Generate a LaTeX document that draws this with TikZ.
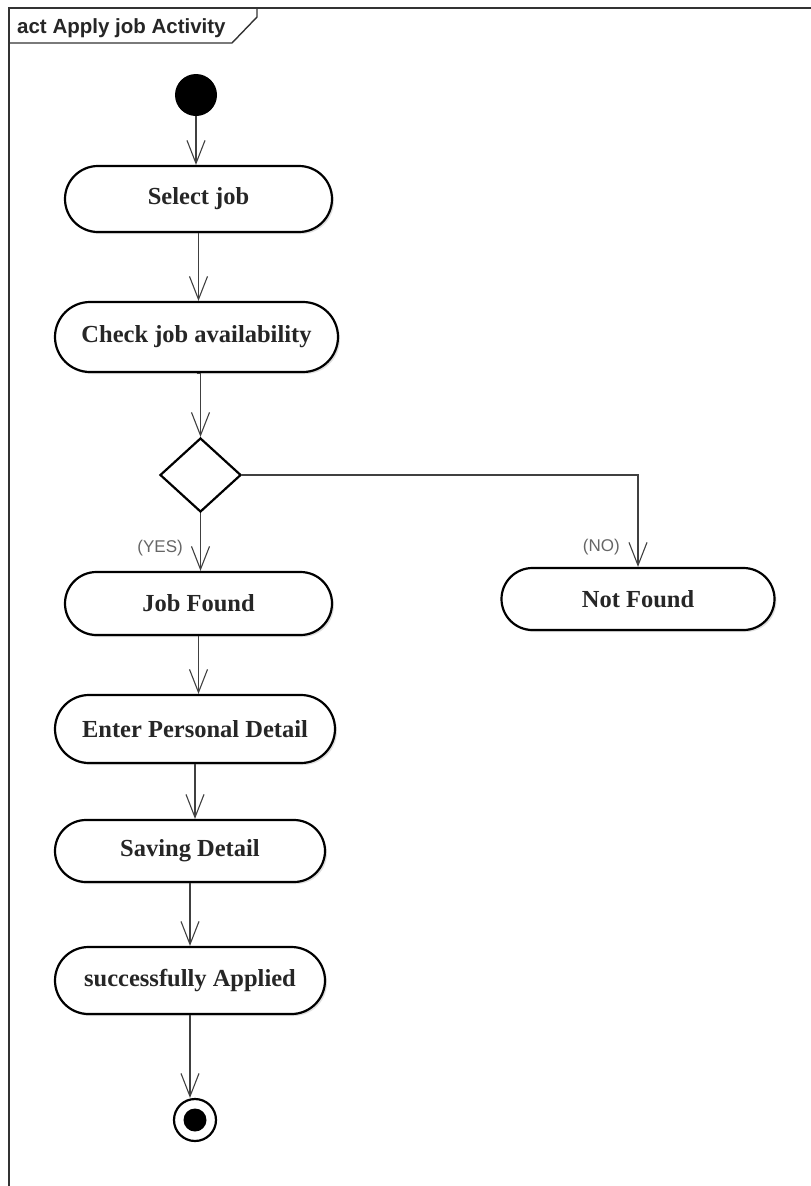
\documentclass[tikz,border=0pt]{standalone}
\usepackage{fontspec}
\setmainfont{Liberation Serif}
\newfontfamily\framefont{Liberation Sans}
\usetikzlibrary{shapes.misc,shapes.geometric,arrows.meta,shadows}

\tikzset{
  actbox/.style={rounded rectangle, draw=black, line width=2.2pt, fill=white,
    inner sep=0pt, font=\fontsize{24.5}{28}\selectfont\bfseries, text=black!85,
    drop shadow={shadow xshift=2pt, shadow yshift=-2pt, opacity=0.25, fill=black!50}},
  decbox/.style={diamond, draw=black, line width=2.2pt, fill=white, inner sep=0pt,
    minimum width=81pt, minimum height=74pt},
  flow/.style={draw=black!75, line width=1.1pt,
    -{Straight Barb[length=23pt, width=18pt, line width=1.1pt]}},
  guard/.style={font=\framefont\fontsize{17}{19}\selectfont, text=black!60, inner sep=1pt},
}

\begin{document}
\begin{tikzpicture}[x=1pt, y=-1pt]
  \useasboundingbox (0,0) rectangle (811,1186);

  % diagram frame and its name tab
  \draw[line width=1.4pt, black!80] (9,1186) -- (9,8) -- (811,8);
  \draw[line width=1.4pt, black!80] (9,43) -- (232,43) -- (257,17) -- (257,8);
  \node[anchor=west, font=\framefont\fontsize{20.5}{22}\selectfont\bfseries, text=black!85, inner sep=0pt]
    (title) at (17,28) {act Apply job Activity};

  % start and end
  \node[circle, fill=black, minimum size=42pt, inner sep=0pt] (start) at (196,95) {};
  \node[circle, draw=black, line width=2.2pt, fill=white, minimum size=42pt, inner sep=0pt] (stop) at (195,1120) {};
  \node[circle, fill=black, minimum size=23pt, inner sep=0pt] (stopdot) at (stop) {};

  % activities
  \node[actbox, minimum width=267pt, minimum height=66pt] (sel)   at (198.5,199)   {Select job};
  \node[actbox, minimum width=283pt, minimum height=70pt] (chk)   at (196.5,337)   {Check job availability};
  \node[decbox] (dec) at (200.5,475) {};
  \node[actbox, minimum width=267pt, minimum height=63pt] (found) at (198.5,603.5) {Job Found};
  \node[actbox, minimum width=273pt, minimum height=62pt] (notf)  at (638,599)     {Not Found};
  \node[actbox, minimum width=280pt, minimum height=68pt] (ent)   at (195,729)     {Enter Personal Detail};
  \node[actbox, minimum width=270pt, minimum height=62pt] (sav)   at (190,851)     {Saving Detail};
  \node[actbox, minimum width=270pt, minimum height=67pt] (succ)  at (190,980.5)   {successfully Applied};

  % control flows
  \draw[flow] (start) -- (start |- sel.north);
  \draw[flow] (sel.south) -- (sel.south |- chk.north);
  \draw[flow] (chk.south) -- (chk.south -| dec.north) -- (dec.north);
  \draw[flow] (dec.south) -- (dec.south |- found.north);
  \draw[flow] (dec.east) -| (notf.north);
  \draw[flow] (found.south) -- (found.south |- ent.north);
  \draw[flow] (ent.south) -- (ent.south |- sav.north);
  \draw[flow] (sav.south) -- (sav.south |- succ.north);
  \draw[flow] (succ.south) -- (succ.south |- stop.north);

  % guards
  \node[guard, anchor=east] (yes) at (184,548) {(YES)};
  \node[guard, anchor=east] (no)  at (621,547) {(NO)};
\end{tikzpicture}
\end{document}
